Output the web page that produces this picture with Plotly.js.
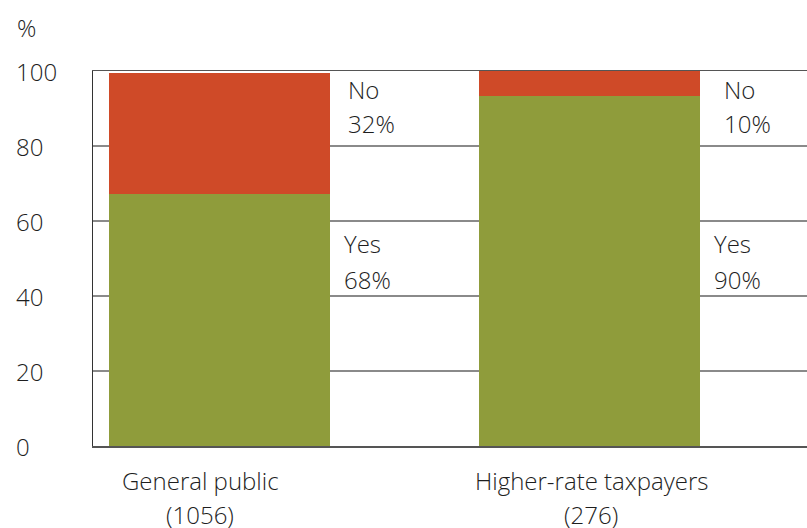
<!DOCTYPE html>
<html>
<head>
<meta charset="utf-8">
<script src="https://cdn.plot.ly/plotly-3.0.1.min.js"></script>
<style>html,body{margin:0;padding:0;background:#fff;}#chart{width:807px;height:528px;}</style>
</head>
<body>
<div id="chart"></div>
<script>
// ---- data ----
var categories = ['General public', 'Higher-rate taxpayers'];
var sampleSizes = ['(1056)', '(276)'];
var yesValues = [67.3, 93.3];
var noValues = [32.2, 6.8];
var yesLabels = ['68%', '90%'];
var noLabels = ['32%', '10%'];
var yTicks = [0, 20, 40, 60, 80, 100];

// ---- style ----
var FONT = 'Open Sans, Noto Sans, sans-serif';
var TXT = '#1e1e1e';
var FS = 24;
var FW = 300;
var GREEN = '#8F9C3B';
var RED = '#CF4A28';

var traces = [
  {type: 'bar', name: 'Yes', x: categories, y: yesValues, marker: {color: GREEN, line: {width: 0}}, hoverinfo: 'none'},
  {type: 'bar', name: 'No', x: categories, y: noValues, marker: {color: RED, line: {width: 0}}, hoverinfo: 'none'}
];

function f() { return {family: FONT, size: FS, color: TXT, weight: FW}; }

var ann = [];
var noShift = [127, 133];
var yesShift = [123, 123];
var catLabelShift = [-19, 2];
categories.forEach(function (c, i) {
  ann.push({xref: 'x', yref: 'y', x: c, y: 95.2, xanchor: 'left', yanchor: 'middle', xshift: noShift[i], text: 'No', showarrow: false, font: f()});
  ann.push({xref: 'x', yref: 'y', x: c, y: 85.9, xanchor: 'left', yanchor: 'middle', xshift: noShift[i], text: noLabels[i], showarrow: false, font: f()});
  ann.push({xref: 'x', yref: 'y', x: c, y: 54.1, xanchor: 'left', yanchor: 'middle', xshift: yesShift[i], text: 'Yes', showarrow: false, font: f()});
  ann.push({xref: 'x', yref: 'y', x: c, y: 44.3, xanchor: 'left', yanchor: 'middle', xshift: yesShift[i], text: yesLabels[i], showarrow: false, font: f()});
  ann.push({xref: 'x', yref: 'paper', x: c, y: -0.093, xanchor: 'center', yanchor: 'middle', xshift: catLabelShift[i], text: c, showarrow: false, font: f()});
  ann.push({xref: 'x', yref: 'paper', x: c, y: -0.183, xanchor: 'center', yanchor: 'middle', xshift: catLabelShift[i], text: sampleSizes[i], showarrow: false, font: f()});
});
yTicks.forEach(function (t) {
  ann.push({xref: 'paper', yref: 'y', x: -0.1106, y: t, xanchor: 'left', yanchor: 'middle', text: String(t), showarrow: false, font: f()});
});
ann.push({xref: 'paper', yref: 'paper', x: -0.1092, y: 1.117, xanchor: 'left', yanchor: 'middle', text: '%', showarrow: false, font: f()});

var layout = {
  width: 807, height: 528,
  margin: {l: 93, r: 0, t: 71, b: 82, pad: 0},
  paper_bgcolor: '#ffffff', plot_bgcolor: '#ffffff',
  barmode: 'stack', bargap: 0.403,
  showlegend: false,
  font: {family: FONT, size: FS, color: TXT},
  xaxis: {type: 'category', range: [-0.3416, 1.5878], showticklabels: false, ticks: '', showgrid: false, zeroline: false,
          showline: true, mirror: true, linecolor: '#555555', linewidth: 1.5, layer: 'below traces', fixedrange: true},
  yaxis: {range: [0, 100], tickvals: yTicks, showticklabels: false, ticks: '', showgrid: true, gridcolor: '#8a8a8a', gridwidth: 1.3,
          zeroline: false, showline: true, linecolor: '#333333', linewidth: 1.5, layer: 'below traces', fixedrange: true},
  annotations: ann
};

Plotly.newPlot('chart', traces, layout, {staticPlot: true, displayModeBar: false});
</script>
</body>
</html>
